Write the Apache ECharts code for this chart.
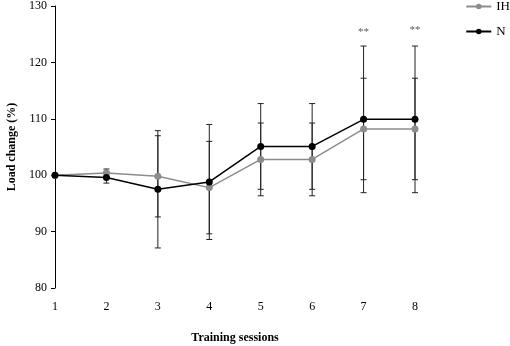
<!DOCTYPE html>
<html>
<head>
<meta charset="utf-8">
<script src="https://cdn.jsdelivr.net/npm/echarts@6/dist/echarts.min.js"></script>
<style>
  html, body { margin: 0; padding: 0; background: #fff; }
  #main { width: 510px; height: 346px; }
</style>
</head>
<body>
<div id="main"></div>
<script>
  var sessions = [1, 2, 3, 4, 5, 6, 7, 8]
  var ihMean = [100, 100.4, 99.8, 97.8, 102.8, 102.8, 108.2, 108.2]
  var ihSd = [0, 0.7, 7.2, 8.2, 6.45, 6.45, 9.0, 9.0]
  var nMean = [100, 99.6, 97.5, 98.8, 105.1, 105.1, 109.9, 109.9]
  var nSd = [0, 1.0, 10.4, 10.2, 7.6, 7.6, 13.0, 13.0]
  var sigSessions = [7, 8]
  var sigY = [125.4, 125.8]
  var yTicks = [80, 90, 100, 110, 120, 130]

  var font = 'Liberation Serif'

  function pairs(means) {
    return sessions.map(function (s, i) { return [s, means[i]] })
  }
  function bars(means, sds) {
    var out = []
    for (var i = 0; i < sessions.length; i++) {
      if (sds[i] > 0) out.push([sessions[i], means[i] - sds[i], means[i] + sds[i]])
    }
    return out
  }

  // error bars: vertical line plus caps
  function renderBar(params, api) {
    var x = api.value(0)
    var lo = api.coord([x, api.value(1)])
    var hi = api.coord([x, api.value(2)])
    var w = 3
    var st = { stroke: '#222', lineWidth: 1 }
    return {
      type: 'group',
      children: [
        { type: 'line', shape: { x1: lo[0], y1: lo[1], x2: hi[0], y2: hi[1] }, style: st },
        { type: 'line', shape: { x1: lo[0] - w, y1: lo[1], x2: lo[0] + w, y2: lo[1] }, style: st },
        { type: 'line', shape: { x1: hi[0] - w, y1: hi[1], x2: hi[0] + w, y2: hi[1] }, style: st }
      ]
    }
  }

  var chart = echarts.init(document.getElementById('main'))
  chart.setOption({
    animation: false,
    textStyle: { fontFamily: font },
    grid: { left: 55, right: 95, top: 6, bottom: 58, containLabel: false, outerBoundsMode: 'none' },
    legend: {
      orient: 'vertical',
      right: 0,
      top: 0,
      padding: 0,
      itemWidth: 25,
      itemHeight: 7,
      itemGap: 12,
      data: ['IH', 'N'],
      textStyle: { fontFamily: font, fontSize: 13, color: '#000' }
    },
    xAxis: {
      type: 'value',
      min: 1,
      max: 8,
      interval: 1,
      name: 'Training sessions',
      nameLocation: 'middle',
      nameGap: 44,
      nameTextStyle: { fontFamily: font, fontWeight: 'bold', fontSize: 12, color: '#000' },
      axisLine: { show: false },
      axisTick: { show: false },
      splitLine: { show: false },
      axisLabel: { margin: 13, fontFamily: font, fontSize: 12, color: '#000' }
    },
    yAxis: {
      type: 'value',
      min: yTicks[0],
      max: yTicks[yTicks.length - 1],
      interval: 10,
      name: 'Load change (%)',
      nameLocation: 'middle',
      nameGap: 36,
      nameTextStyle: { fontFamily: font, fontWeight: 'bold', fontSize: 12, color: '#000' },
      axisLine: { show: true, lineStyle: { color: '#000', width: 1 } },
      axisTick: { show: true, length: 4, lineStyle: { color: '#000' } },
      splitLine: { show: false },
      axisLabel: { margin: 8, fontFamily: font, fontSize: 12, color: '#000' }
    },
    series: [
      {
        name: 'IH err',
        type: 'custom',
        renderItem: renderBar,
        data: bars(ihMean, ihSd),
        z: 1
      },
      {
        name: 'N err',
        type: 'custom',
        renderItem: renderBar,
        data: bars(nMean, nSd),
        z: 1
      },
      {
        name: 'IH',
        type: 'line',
        data: pairs(ihMean),
        symbol: 'circle',
        symbolSize: 7,
        color: '#8c8c8c',
        lineStyle: { color: '#8c8c8c', width: 1.5 },
        itemStyle: { color: '#8c8c8c' },
        z: 3
      },
      {
        name: 'N',
        type: 'line',
        data: pairs(nMean),
        symbol: 'circle',
        symbolSize: 7,
        color: '#000',
        lineStyle: { color: '#000', width: 1.5 },
        itemStyle: { color: '#000' },
        z: 4
      },
      {
        name: 'sig',
        type: 'scatter',
        data: sigSessions.map(function (s, i) { return [s, sigY[i]] }),
        symbolSize: 0,
        label: {
          show: true,
          position: 'inside',
          formatter: '**',
          fontFamily: font,
          fontSize: 11,
          color: '#333'
        },
        z: 5
      }
    ]
  })
</script>
</body>
</html>
